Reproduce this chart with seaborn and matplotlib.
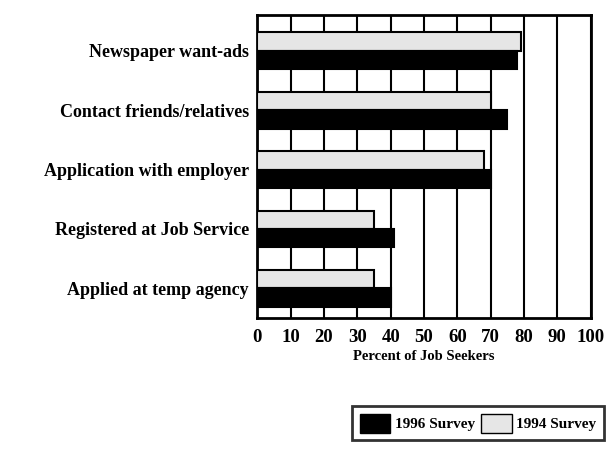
import pandas as pd
import matplotlib.pyplot as plt
import seaborn as sns
from matplotlib.patches import Patch

# Data
methods = ['Newspaper want-ads', 'Contact friends/relatives', 'Application with employer',
           'Registered at Job Service', 'Applied at temp agency']
survey_1996 = [78, 75, 70, 41, 40]
survey_1994 = [79, 70, 68, 35, 35]

df = pd.DataFrame({
    'Method': methods * 2,
    'Percent': survey_1994 + survey_1996,
    'Survey': ['1994 Survey'] * 5 + ['1996 Survey'] * 5,
})

sns.set_style('white')
plt.rcParams['font.family'] = ['Liberation Serif', 'DejaVu Serif']
plt.rcParams['font.weight'] = 'bold'
plt.rcParams['text.color'] = 'black'
plt.rcParams['xtick.color'] = 'black'
plt.rcParams['ytick.color'] = 'black'
plt.rcParams['axes.labelcolor'] = 'black'

fig = plt.figure(figsize=(6.14, 4.57), dpi=100)
ax = fig.add_axes([0.419, 0.304, 0.543, 0.663])

palette = {'1994 Survey': '#e6e6e6', '1996 Survey': 'black'}
sns.barplot(data=df, y='Method', x='Percent', hue='Survey',
            hue_order=['1994 Survey', '1996 Survey'], palette=palette,
            order=methods, orient='h', width=0.62, edgecolor='black',
            linewidth=1.5, legend=False, ax=ax, zorder=3)

ax.set_xlim(0, 100)
ax.set_ylim(4.5, -0.6)
ax.set_xticks(range(0, 101, 10))
ax.set_xticklabels([str(v) for v in range(0, 101, 10)], fontsize=13.5, fontweight='bold')
ax.set_yticks(range(len(methods)))
ax.set_yticklabels(methods, fontsize=13, fontweight='bold')
ax.tick_params(axis='y', length=0, pad=6)
ax.tick_params(axis='x', length=6, width=1.5, direction='out', pad=2)
ax.set_yticks([-0.5, 0.5, 1.5, 2.5, 3.5, 4.5], minor=True)
ax.tick_params(axis='y', which='minor', length=6, width=1.5, direction='out')

ax.grid(axis='x', color='black', linewidth=1.5, zorder=0)
ax.set_axisbelow(True)
for s in ax.spines.values():
    s.set_linewidth(2)
    s.set_color('black')

ax.set_xlabel('Percent of Job Seekers', fontsize=10.5, fontweight='bold', labelpad=3)
ax.set_ylabel('')

handles = [Patch(facecolor='black', edgecolor='black', label='1996 Survey'),
           Patch(facecolor='#e6e6e6', edgecolor='black', label='1994 Survey')]
leg = fig.legend(handles=handles, loc='center right', bbox_to_anchor=(0.984, 0.074), ncol=2,
                 frameon=True, fancybox=False, edgecolor='black', fontsize=11,
                 handlelength=2.0, handleheight=1.5, columnspacing=0.4, handletextpad=0.3,
                 borderpad=0.5, borderaxespad=0)
leg.get_frame().set_linewidth(2)
leg.get_frame().set_edgecolor('black')

fig.savefig('out.png', dpi=100)
